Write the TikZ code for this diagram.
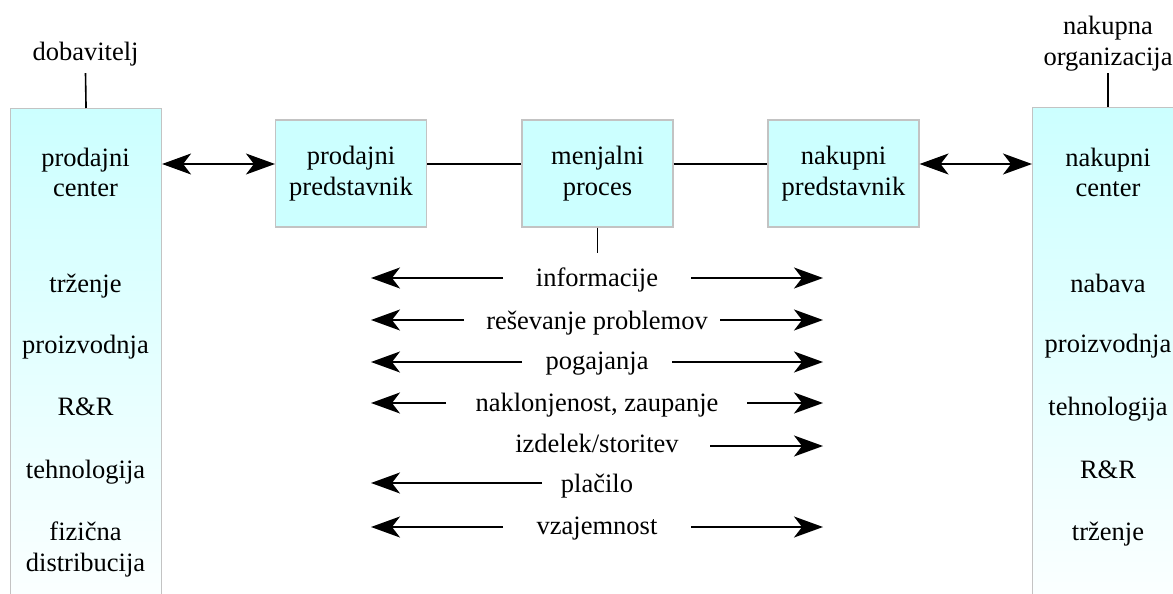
\documentclass[tikz,border=0pt]{standalone}
\usepackage{fontspec}
\setmainfont{Liberation Serif}
\usetikzlibrary{arrows.meta}
\definecolor{boxcyan}{RGB}{204,255,255}
\definecolor{palecyan}{RGB}{251,255,255}
\definecolor{boxrule}{RGB}{195,195,195}
\tikzset{
  txt/.style={font=\fontsize{26.5}{31}\selectfont, inner sep=0pt, anchor=base},
  midbox/.style={draw=boxrule, line width=1.1pt, fill=boxcyan,
    minimum width=151pt, minimum height=107pt, inner sep=0pt,
    align=center, font=\fontsize{26.5}{31}\selectfont},
  colbox/.style={draw=boxrule, line width=1.1pt, top color=boxcyan,
    bottom color=palecyan, anchor=north west, minimum height=490pt, inner sep=0pt},
  wire/.style={line width=1.6pt},
  tip/.tip={Stealth[length=29pt,width=21pt,inset=8pt]},
  flow/.style={line width=1.6pt, -tip},
  both/.style={line width=1.6pt, tip-tip},
}
\begin{document}
\begin{tikzpicture}[x=1pt,y=-1pt]
\path[use as bounding box] (0,0) rectangle (1173,594);
\clip (0,0) rectangle (1173,594);

% side columns
\node[colbox, minimum width=151pt] (lcol) at (10,108) {};
\node[colbox, minimum width=170pt] (rcol) at (1032,107) {};

% middle boxes
\node[midbox] (pp) at (351,173.5) {prodajni\\predstavnik};
\node[midbox] (mp) at (597.5,173.5) {menjalni\\proces};
\node[midbox] (np) at (843.5,173.5) {nakupni\\predstavnik};

% top labels
\node[txt, inner ysep=6.2pt] (dob) at (85.5,61) {dobavitelj};
\node[txt] (nak1) at (1108,35) {nakupna};
\node[txt, inner ysep=1.5pt] (nak2) at (1108,65.7) {organizacija};
\draw[wire] (dob.south) -- (lcol.north);
\draw[wire] (nak2.south) -- (nak2.south |- rcol.north);

% column headers
\node[txt] (lh1) at (85.5,166) {prodajni};
\node[txt] (lh2) at (85.5,196.7) {center};
\node[txt] (rh1) at (1108,166) {nakupni};
\node[txt] (rh2) at (1108,196.7) {center};

% supplier functions
\node[txt] (l1) at (85.5,292) {trženje};
\node[txt] (l2) at (85.5,353) {proizvodnja};
\node[txt] (l3) at (85.5,415) {R\&R};
\node[txt] (l4) at (85.5,478) {tehnologija};
\node[txt] (l5) at (85.5,540) {fizična};
\node[txt] (l6) at (85.5,571) {distribucija};

% buyer functions
\node[txt] (q1) at (1108,292) {nabava};
\node[txt] (q2) at (1108,352) {proizvodnja};
\node[txt] (q3) at (1108,415) {tehnologija};
\node[txt] (q4) at (1108,478) {R\&R};
\node[txt] (q5) at (1108,540) {trženje};

% links between the boxes
\coordinate (lnk) at (0,164);
\draw[both] (lcol.east |- lnk) -- (pp.west |- lnk);
\draw[wire] (pp.east |- lnk) -- (mp.west |- lnk);
\draw[wire] (mp.east |- lnk) -- (np.west |- lnk);
\draw[both] (np.east |- lnk) -- (rcol.west |- lnk);
\coordinate (mpend) at (597,253);
\draw[wire] (mp.south) -- (mp.south |- mpend);

% exchange flows
\node[txt] (f1) at (597,286.7) {informacije};
\node[txt] (f2) at (597,329) {reševanje problemov};
\node[txt] (f3) at (597,369.5) {pogajanja};
\node[txt] (f4) at (597,411.7) {naklonjenost, zaupanje};
\node[txt] (f5) at (597,452.5) {izdelek/storitev};
\node[txt] (f6) at (597,492.5) {plačilo};
\node[txt] (f7) at (597,534) {vzajemnost};

\coordinate (a1l) at (503,278);  \coordinate (t1l) at (371,278);
\coordinate (a1r) at (691,278);  \coordinate (t1r) at (823,278);
\coordinate (a2l) at (464,320);  \coordinate (t2l) at (371,320);
\coordinate (a2r) at (720,320);  \coordinate (t2r) at (823,320);
\coordinate (a3l) at (522,362);  \coordinate (t3l) at (371,362);
\coordinate (a3r) at (672,362);  \coordinate (t3r) at (823,362);
\coordinate (a4l) at (446,403);  \coordinate (t4l) at (371,403);
\coordinate (a4r) at (747,403);  \coordinate (t4r) at (823,403);
\coordinate (a5r) at (710,446);  \coordinate (t5r) at (823,446);
\coordinate (a6l) at (542,483);  \coordinate (t6l) at (371,483);
\coordinate (a7l) at (503,527);  \coordinate (t7l) at (371,527);
\coordinate (a7r) at (691,527);  \coordinate (t7r) at (823,527);

\draw[flow] (a1l) -- (t1l);  \draw[flow] (a1r) -- (t1r);
\draw[flow] (a2l) -- (t2l);  \draw[flow] (a2r) -- (t2r);
\draw[flow] (a3l) -- (t3l);  \draw[flow] (a3r) -- (t3r);
\draw[flow] (a4l) -- (t4l);  \draw[flow] (a4r) -- (t4r);
\draw[flow] (a5r) -- (t5r);
\draw[flow] (a6l) -- (t6l);
\draw[flow] (a7l) -- (t7l);  \draw[flow] (a7r) -- (t7r);
\end{tikzpicture}
\end{document}
